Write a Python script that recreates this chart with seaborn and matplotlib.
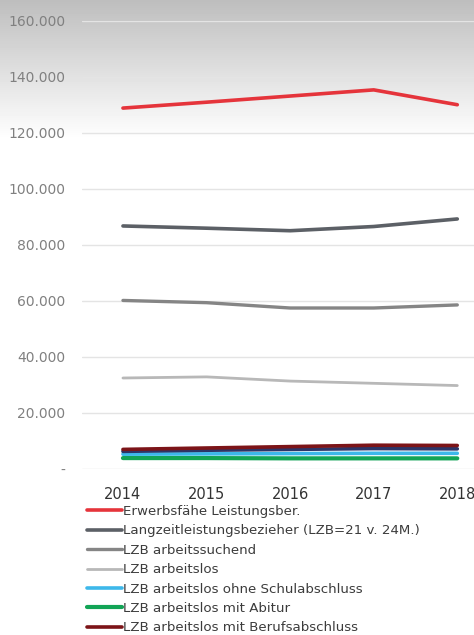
import numpy as np
import pandas as pd
import matplotlib
matplotlib.use("Agg")
import matplotlib.pyplot as plt
import seaborn as sns
from matplotlib.ticker import FuncFormatter

# Daten
jahre = [2014, 2015, 2016, 2017, 2018]
erwerbsfaehige = [128900, 131000, 133200, 135400, 130100]
langzeit = [86800, 86000, 85100, 86600, 89300]
arbeitssuchend = [60200, 59400, 57500, 57500, 58600]
arbeitslos = [32500, 32900, 31400, 30600, 29800]
ohne_schulabschluss = [5300, 5400, 5500, 5600, 5600]
mit_abitur = [3900, 3900, 3800, 3800, 3800]
mit_berufsabschluss = [7000, 7500, 8000, 8500, 8400]
weitere_reihe = [6300, 6700, 7000, 7300, 7200]

reihen = [
    ("Erwerbsfähe Leistungsber.", erwerbsfaehige, "#e5343b", 2.6),
    ("Langzeitleistungsbezieher (LZB=21 v. 24M.)", langzeit, "#5c6066", 2.6),
    ("LZB arbeitssuchend", arbeitssuchend, "#858585", 2.4),
    ("LZB arbeitslos", arbeitslos, "#b8b8b8", 2.0),
    ("LZB arbeitslos ohne Schulabschluss", ohne_schulabschluss, "#3db8ea", 2.6),
    ("LZB arbeitslos mit Abitur", mit_abitur, "#12a456", 3.0),
    ("_weitere", weitere_reihe, "#2c3568", 2.6),
    ("LZB arbeitslos mit Berufsabschluss", mit_berufsabschluss, "#7c1418", 2.6),
]

sns.set_style("white")
plt.rcParams["font.family"] = ["Liberation Sans Narrow", "DejaVu Sans"]

fig = plt.figure(figsize=(4.74, 6.35), dpi=100)

# grauer Verlauf oben (Fotoeffekt)
bg = fig.add_axes([0, 0, 1, 1], zorder=-5)
verlauf = np.ones((635, 10))
h = 140
verlauf[:h, :] = (np.linspace(0.72, 1.0, h) ** 0.9)[:, None]
bg.imshow(verlauf, cmap="gray", vmin=0, vmax=1, aspect="auto", extent=[0, 1, 0, 1])
bg.axis("off")

ax = fig.add_axes([82 / 474, 166 / 635, 392 / 474, 448 / 635])
ax.patch.set_alpha(0)

for name, werte, farbe, lw in reihen:
    df = pd.DataFrame({"Jahr": jahre, "Wert": werte})
    sns.lineplot(data=df, x="Jahr", y="Wert", ax=ax, color=farbe, linewidth=lw, label=name)

ax.set_xlim(2013.51, 2018.2)
ax.set_ylim(0, 160000)
ax.set_yticks(range(0, 160001, 20000))
ax.yaxis.set_major_formatter(
    FuncFormatter(lambda v, p: "-" if v == 0 else f"{int(v):,}".replace(",", "."))
)
ax.set_xticks(jahre)
ax.grid(axis="y", color="#e4e4e4", linewidth=1.0)
ax.set_axisbelow(True)
for s in ax.spines.values():
    s.set_visible(False)
ax.tick_params(axis="y", colors="#808080", labelsize=10, length=0, pad=12)
ax.tick_params(axis="x", colors="#333333", labelsize=10.5, length=0, pad=13)
ax.set_xlabel("")
ax.set_ylabel("")

handles, labels = ax.get_legend_handles_labels()
ax.get_legend().remove()
fig.legend(
    handles, labels,
    loc="upper left", bbox_to_anchor=(87 / 474, 1 - 505 / 635),
    frameon=False, fontsize=9.6, handlelength=2.6, handletextpad=0.1,
    labelspacing=0.48, borderpad=0, borderaxespad=0, labelcolor="#3c3c3c",
)

plt.savefig("out.png", dpi=100)
